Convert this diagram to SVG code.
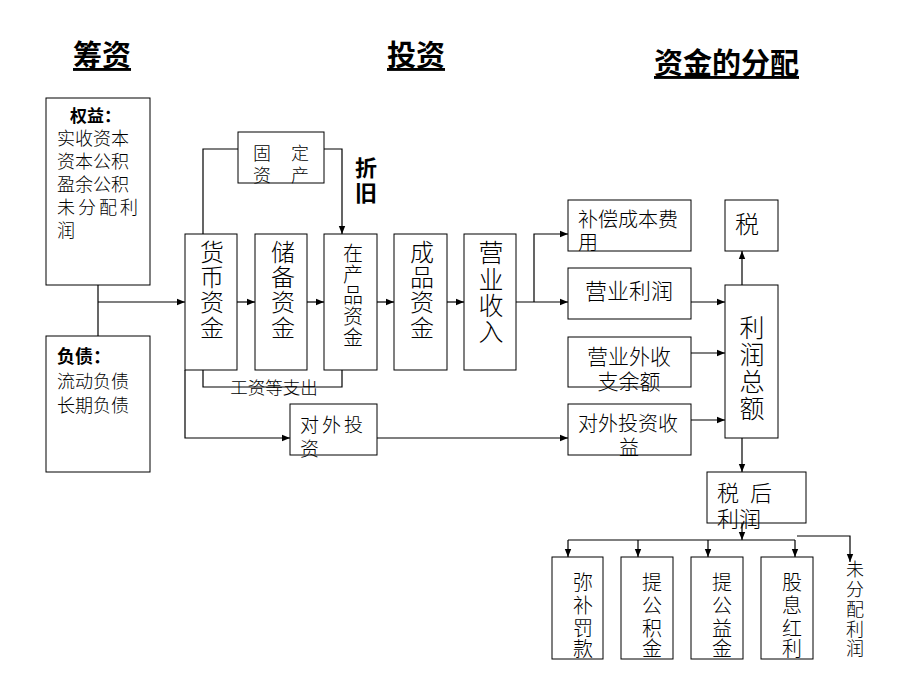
<svg xmlns="http://www.w3.org/2000/svg" width="920" height="690" viewBox="0 0 920 690">
<style>
.t{font-family:"Liberation Serif","Noto Sans CJK SC",serif;fill:#000;font-weight:300}
.h{font-size:29px;font-weight:bold;text-decoration:underline}
.bold{font-weight:bold}
.b{fill:#fff;stroke:#000;stroke-width:1}
.c{fill:none;stroke:#000;stroke-width:1.2}
.a{marker-end:url(#ah)}
</style>
<defs>
<marker id="ah" viewBox="0 0 10 10" refX="10" refY="5" markerWidth="9" markerHeight="8" markerUnits="userSpaceOnUse" orient="auto"><path d="M0,1 L10,5 L0,9z" fill="#000"/></marker>
</defs>
<rect width="920" height="690" fill="#fff"/>
<g id="titles">
<text class="t h" x="73" y="66">筹资</text>
<text class="t h" x="387" y="66">投资</text>
<text class="t h" x="654" y="74">资金的分配</text>
</g>
<g id="connectors">
<path class="c" d="M98,285 V336"/>
<path class="c a" d="M98,302 H185"/>
<path class="c a" d="M237,302 H255"/>
<path class="c a" d="M307,302 H324"/>
<path class="c a" d="M377,302 H394"/>
<path class="c a" d="M447,302 H464"/>
<path class="c" d="M203,234 V149 H238"/>
<path class="c a" d="M324,149 H342 V234"/>
<path class="c" d="M203,370 V387 H342 V370"/>
<path class="c a" d="M185,370 V438 H290"/>
<path class="c a" d="M377,438 H568"/>
<path class="c a" d="M516,302 H568"/>
<path class="c a" d="M534,302 V234 H568"/>
<path class="c a" d="M691,302 H725"/>
<path class="c a" d="M691,353 H725"/>
<path class="c a" d="M691,420 H725"/>
<path class="c a" d="M742,285 V251"/>
<path class="c a" d="M742,438 V472"/>
<path class="c a" d="M742,523 V540"/>
<path class="c" d="M568,540 H795"/>
<path class="c a" d="M568,540 V557"/>
<path class="c a" d="M638,540 V557"/>
<path class="c a" d="M708,540 V557"/>
<path class="c a" d="M795,540 V557"/>
<path class="c a" d="M797,536 H850 V562"/>
</g>
<g id="equity">
<rect class="b" x="46" y="98" width="104" height="187"/>
<text class="t bold" x="70" y="122" font-size="17">权益：</text>
<text class="t" font-size="18"><tspan x="57" y="145">实收资本</tspan><tspan x="57" y="168">资本公积</tspan><tspan x="57" y="191">盈余公积</tspan><tspan x="57" y="214" letter-spacing="3">未分配利</tspan><tspan x="57" y="237">润</tspan></text>
</g>
<g id="debt">
<rect class="b" x="46" y="336" width="104" height="136"/>
<text class="t bold" x="57" y="363" font-size="18">负债：</text>
<text class="t" font-size="18"><tspan x="57" y="388">流动负债</tspan><tspan x="57" y="412">长期负债</tspan></text>
</g>
<g id="fixed-assets">
<rect class="b" x="238" y="132" width="86" height="51"/>
<text class="t" font-size="18" letter-spacing="1" xml:space="preserve"><tspan x="253" y="160">固　定</tspan><tspan x="253" y="182">资　产</tspan></text>
</g>
<g id="depreciation">
<text class="t bold" font-size="22"><tspan x="355" y="176">折</tspan><tspan x="355" y="201">旧</tspan></text>
</g>
<g id="cash">
<rect class="b" x="185" y="234" width="52" height="136"/>
<text class="t" font-size="24" text-anchor="middle"><tspan x="212" y="261">货</tspan><tspan x="212" y="286">币</tspan><tspan x="212" y="311">资</tspan><tspan x="212" y="337">金</tspan></text>
</g>
<g id="reserve">
<rect class="b" x="255" y="234" width="52" height="136"/>
<text class="t" font-size="24" text-anchor="middle"><tspan x="283" y="261">储</tspan><tspan x="283" y="286">备</tspan><tspan x="283" y="311">资</tspan><tspan x="283" y="337">金</tspan></text>
</g>
<g id="wip">
<rect class="b" x="324" y="234" width="53" height="136"/>
<text class="t" font-size="20" text-anchor="middle"><tspan x="353" y="261">在</tspan><tspan x="353" y="282">产</tspan><tspan x="353" y="303">品</tspan><tspan x="353" y="324">资</tspan><tspan x="353" y="345">金</tspan></text>
</g>
<g id="finished">
<rect class="b" x="394" y="234" width="53" height="136"/>
<text class="t" font-size="24" text-anchor="middle"><tspan x="422" y="261">成</tspan><tspan x="422" y="286">品</tspan><tspan x="422" y="311">资</tspan><tspan x="422" y="337">金</tspan></text>
</g>
<g id="revenue">
<rect class="b" x="464" y="234" width="52" height="136"/>
<text class="t" font-size="25" text-anchor="middle"><tspan x="491" y="262">营</tspan><tspan x="491" y="289">业</tspan><tspan x="491" y="315">收</tspan><tspan x="491" y="341">入</tspan></text>
</g>
<g id="wages-label">
<text class="t" x="274" y="394" font-size="17.5" text-anchor="middle">工资等支出</text>
</g>
<g id="outward-invest">
<rect class="b" x="290" y="404" width="87" height="51"/>
<text class="t" font-size="19"><tspan x="300" y="432" letter-spacing="3">对外投</tspan><tspan x="300" y="456">资</tspan></text>
</g>
<g id="cost-comp">
<rect class="b" x="568" y="200" width="123" height="51"/>
<text class="t" font-size="20"><tspan x="578" y="227">补偿成本费</tspan><tspan x="578" y="250">用</tspan></text>
</g>
<g id="op-profit">
<rect class="b" x="568" y="268" width="123" height="51"/>
<text class="t" x="629" y="299" font-size="22" text-anchor="middle">营业利润</text>
</g>
<g id="nonop">
<rect class="b" x="568" y="337" width="123" height="50"/>
<text class="t" font-size="21" text-anchor="middle"><tspan x="629" y="364">营业外收</tspan><tspan x="629" y="389">支余额</tspan></text>
</g>
<g id="invest-income">
<rect class="b" x="568" y="404" width="123" height="51"/>
<text class="t" font-size="20"><tspan x="578" y="431">对外投资收</tspan><tspan x="619" y="455">益</tspan></text>
</g>
<g id="tax">
<rect class="b" x="725" y="200" width="53" height="51"/>
<text class="t" x="735" y="233" font-size="24">税</text>
</g>
<g id="total-profit">
<rect class="b" x="725" y="285" width="53" height="153"/>
<text class="t" font-size="25" text-anchor="middle"><tspan x="752" y="337">利</tspan><tspan x="752" y="364">润</tspan><tspan x="752" y="391">总</tspan><tspan x="752" y="418">额</tspan></text>
</g>
<g id="after-tax">
<rect class="b" x="707" y="472" width="99" height="51"/>
<text class="t" font-size="22" xml:space="preserve"><tspan x="717" y="501">税  后</tspan><tspan x="717" y="527">利润</tspan></text>
</g>
<g id="penalty">
<rect class="b" x="552" y="557" width="51" height="102"/>
<text class="t" font-size="20" text-anchor="middle"><tspan x="583" y="590">弥</tspan><tspan x="583" y="613">补</tspan><tspan x="583" y="636">罚</tspan><tspan x="583" y="656">款</tspan></text>
</g>
<g id="surplus">
<rect class="b" x="621" y="557" width="52" height="102"/>
<text class="t" font-size="20" text-anchor="middle"><tspan x="652" y="590">提</tspan><tspan x="652" y="613">公</tspan><tspan x="652" y="636">积</tspan><tspan x="652" y="656">金</tspan></text>
</g>
<g id="welfare">
<rect class="b" x="691" y="557" width="52" height="102"/>
<text class="t" font-size="20" text-anchor="middle"><tspan x="722" y="590">提</tspan><tspan x="722" y="613">公</tspan><tspan x="722" y="636">益</tspan><tspan x="722" y="656">金</tspan></text>
</g>
<g id="dividend">
<rect class="b" x="761" y="557" width="52" height="102"/>
<text class="t" font-size="20" text-anchor="middle"><tspan x="792" y="590">股</tspan><tspan x="792" y="613">息</tspan><tspan x="792" y="636">红</tspan><tspan x="792" y="656">利</tspan></text>
</g>
<g id="undistributed">
<text class="t" font-size="18" text-anchor="middle"><tspan x="855" y="576">未</tspan><tspan x="855" y="596">分</tspan><tspan x="855" y="616">配</tspan><tspan x="855" y="636">利</tspan><tspan x="855" y="655">润</tspan></text>
</g>
</svg>
